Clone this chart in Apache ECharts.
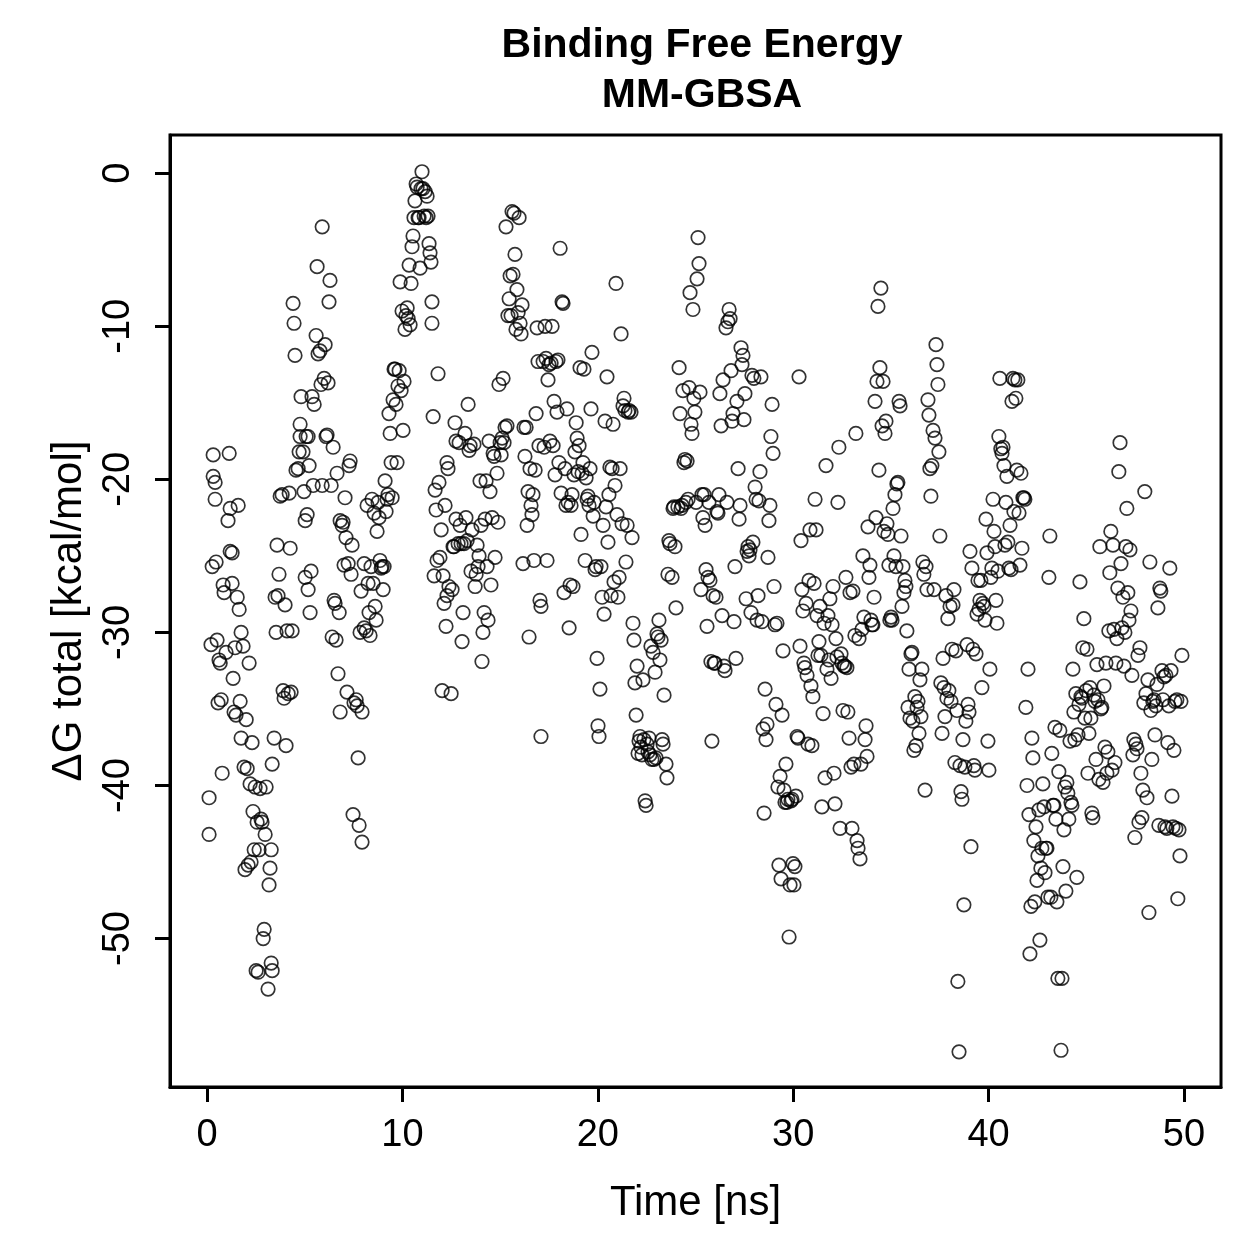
<!DOCTYPE html>
<html>
<head>
<meta charset="utf-8">
<script src="https://cdn.jsdelivr.net/npm/echarts@6/dist/echarts.min.js"></script>
<style>
  html, body { margin: 0; padding: 0; background: #fff; }
  #main { width: 1259px; height: 1259px; }
</style>
</head>
<body>
<div id="main"></div>
<script>
var time = [
  0.10,0.10,0.20,0.26,0.31,0.31,0.41,0.41,0.46,0.51,
  0.56,0.61,0.67,0.72,0.77,0.82,0.87,0.97,1.07,1.13,
  1.18,1.18,1.28,1.28,1.33,1.38,1.43,1.48,1.54,1.59,
  1.64,1.69,1.74,1.74,1.84,1.89,1.94,2.00,2.05,2.10,
  2.15,2.20,2.25,2.30,2.35,2.41,2.46,2.51,2.56,2.61,
  2.66,2.71,2.76,2.81,2.87,2.92,2.97,3.02,3.12,3.17,
  3.22,3.28,3.33,3.28,3.33,3.43,3.48,3.53,3.58,3.63,
  3.68,3.74,3.84,3.89,3.94,3.99,4.04,4.09,4.15,4.20,
  4.25,4.30,4.35,4.40,4.45,4.50,4.55,4.66,4.71,4.76,
  4.76,4.81,4.91,4.96,5.02,5.02,5.07,5.12,5.17,5.17,
  5.22,5.27,5.32,5.37,5.43,5.48,5.58,5.63,5.68,5.78,
  5.83,5.89,5.89,5.99,6.04,6.09,6.14,6.19,6.24,6.29,
  6.35,6.40,6.45,6.50,6.55,6.60,6.65,6.70,6.76,6.81,
  6.81,6.91,6.96,7.01,7.06,7.11,7.16,7.22,7.27,7.32,
  7.37,7.42,7.47,7.52,7.63,7.68,7.73,7.78,7.83,7.88,
  7.93,7.93,8.04,8.04,8.14,8.19,8.24,8.29,8.34,8.39,
  8.44,8.50,8.55,8.60,8.65,8.70,8.75,8.80,8.85,8.91,
  8.96,9.01,9.06,9.11,9.16,9.21,9.26,9.31,9.37,9.42,
  9.47,9.52,9.57,9.62,9.67,9.72,9.77,9.83,9.88,9.93,
  9.98,10.03,10.08,10.13,10.18,10.24,10.29,10.34,10.39,10.44,
  10.49,10.54,10.59,10.64,10.70,10.75,10.80,10.85,10.90,10.95,
  11.00,11.05,11.11,11.16,11.21,11.26,11.31,11.36,11.41,11.46,
  11.51,11.51,11.57,11.62,11.67,11.72,11.77,11.82,11.87,11.92,
  11.98,12.03,12.08,12.13,12.18,12.23,12.28,12.28,12.33,12.38,
  12.49,12.54,12.59,12.64,12.69,12.74,12.74,12.85,12.90,12.95,
  13.00,13.05,13.10,13.15,13.20,13.25,13.31,13.36,13.41,13.46,
  13.51,13.56,13.66,13.72,13.77,13.82,13.87,13.92,13.97,14.02,
  14.07,14.12,14.18,14.23,14.28,14.33,14.38,14.43,14.48,14.53,
  14.59,14.64,14.69,14.74,14.84,14.89,14.94,15.00,15.05,15.10,
  15.15,15.20,15.25,15.30,15.35,15.40,15.46,15.51,15.56,15.61,
  15.66,15.71,15.76,15.81,15.86,15.92,15.97,16.02,16.07,16.12,
  16.17,16.22,16.27,16.33,16.38,16.43,16.48,16.53,16.58,16.63,
  16.68,16.73,16.79,16.84,16.89,16.94,16.99,17.04,17.09,17.09,
  17.20,17.25,17.30,17.35,17.40,17.45,17.50,17.55,17.61,17.66,
  17.71,17.76,17.81,17.86,17.91,17.96,18.01,18.07,18.12,18.17,
  18.22,18.27,18.32,18.37,18.42,18.48,18.53,18.58,18.63,18.68,
  18.73,18.78,18.83,18.89,18.94,18.99,19.04,19.09,19.14,19.19,
  19.24,19.29,19.35,19.40,19.45,19.50,19.55,19.60,19.65,19.70,
  19.76,19.81,19.86,19.91,19.96,20.01,20.06,20.11,20.16,20.22,
  20.27,20.32,20.37,20.42,20.47,20.52,20.57,20.62,20.68,20.73,
  20.78,20.83,20.88,20.93,20.98,21.03,21.09,21.14,21.19,21.24,
  21.29,21.34,21.39,21.44,21.50,21.55,21.60,21.70,21.75,21.80,
  21.85,21.90,21.96,22.01,22.06,22.11,22.16,22.21,22.26,22.31,
  22.36,22.42,22.47,22.52,22.57,22.62,22.67,22.72,22.77,22.83,
  22.88,22.93,22.98,23.03,23.08,23.13,23.18,23.24,23.29,23.34,
  23.39,23.49,23.54,23.59,23.64,23.69,23.80,23.85,23.90,23.95,
  24.00,24.10,24.16,24.21,24.26,24.31,24.36,24.41,24.46,24.51,
  24.57,24.62,24.67,24.72,24.77,24.82,24.87,24.92,24.97,25.03,
  25.08,25.13,25.18,25.23,25.28,25.33,25.38,25.44,25.49,25.54,
  25.59,25.64,25.69,25.74,25.79,25.84,25.90,25.95,26.00,26.05,
  26.10,26.15,26.20,26.25,26.31,26.36,26.41,26.46,26.51,26.56,
  26.61,26.66,26.72,26.77,26.82,26.87,26.92,26.97,27.02,27.07,
  27.12,27.18,27.23,27.28,27.33,27.38,27.43,27.48,27.53,27.59,
  27.64,27.69,27.74,27.79,27.84,27.89,27.94,27.99,28.05,28.10,
  28.15,28.20,28.25,28.30,28.35,28.40,28.46,28.51,28.56,28.61,
  28.66,28.71,28.76,28.81,28.86,28.92,28.97,29.02,29.07,29.12,
  29.17,29.22,29.27,29.33,29.38,29.43,29.48,29.53,29.58,29.63,
  29.68,29.73,29.79,29.84,29.89,29.94,29.99,30.04,30.09,30.14,
  30.20,30.25,30.30,30.35,30.40,30.45,30.50,30.55,30.60,30.66,
  30.71,30.76,30.81,30.86,30.91,30.96,31.01,31.07,31.12,31.17,
  31.22,31.27,31.32,31.37,31.42,31.47,31.53,31.58,31.63,31.68,
  31.73,31.78,31.83,31.88,31.94,31.99,32.04,32.09,32.14,32.19,
  32.24,32.29,32.34,32.40,32.45,32.50,32.55,32.60,32.65,32.70,
  32.75,32.80,32.86,32.91,32.96,33.01,33.06,33.11,33.16,33.21,
  33.27,33.32,33.37,33.42,33.47,33.52,33.57,33.62,33.68,33.73,
  33.78,33.83,33.88,33.93,33.98,34.03,34.08,34.14,34.19,34.24,
  34.29,34.34,34.39,34.44,34.49,34.55,34.60,34.65,34.70,34.75,
  34.80,34.85,34.90,34.95,35.01,35.06,35.11,35.16,35.21,35.26,
  35.31,35.36,35.42,35.47,35.52,35.57,35.62,35.67,35.72,35.77,
  35.82,35.88,35.93,35.98,36.03,36.08,36.13,36.18,36.23,36.29,
  36.34,36.39,36.44,36.49,36.54,36.59,36.64,36.69,36.75,36.80,
  36.85,36.90,36.95,37.00,37.05,37.10,37.16,37.21,37.26,37.31,
  37.36,37.41,37.46,37.51,37.56,37.62,37.67,37.72,37.77,37.82,
  37.87,37.92,37.97,38.03,38.08,38.13,38.18,38.23,38.28,38.33,
  38.38,38.43,38.49,38.54,38.59,38.64,38.69,38.74,38.79,38.84,
  38.90,38.95,39.00,39.05,39.10,39.15,39.20,39.25,39.30,39.36,
  39.41,39.46,39.51,39.56,39.61,39.66,39.71,39.77,39.82,39.87,
  39.92,39.97,40.02,40.07,40.12,40.17,40.23,40.28,40.33,40.38,
  40.43,40.48,40.53,40.58,40.63,40.69,40.74,40.79,40.84,40.89,
  40.94,40.99,41.04,41.10,41.15,41.20,41.25,41.30,41.35,41.40,
  41.45,41.50,41.56,41.61,41.66,41.71,41.76,41.81,41.86,41.91,
  41.97,42.02,42.07,42.12,42.17,42.22,42.27,42.32,42.37,42.43,
  42.48,42.53,42.58,42.63,42.68,42.73,42.78,42.84,42.89,42.94,
  42.99,43.04,43.09,43.14,43.19,43.24,43.30,43.35,43.40,43.45,
  43.50,43.55,43.60,43.65,43.71,43.76,43.81,43.86,43.91,43.96,
  44.01,44.06,44.11,44.17,44.22,44.27,44.32,44.37,44.42,44.47,
  44.52,44.58,44.63,44.68,44.73,44.78,44.83,44.88,44.93,44.99,
  45.04,45.09,45.14,45.19,45.24,45.29,45.34,45.39,45.45,45.50,
  45.55,45.60,45.65,45.70,45.75,45.80,45.86,45.91,45.96,46.01,
  46.06,46.11,46.16,46.21,46.26,46.32,46.37,46.42,46.47,46.52,
  46.57,46.62,46.67,46.73,46.78,46.83,46.88,46.93,46.98,47.03,
  47.08,47.13,47.19,47.24,47.29,47.34,47.39,47.44,47.49,47.54,
  47.60,47.65,47.70,47.75,47.80,47.85,47.90,47.95,48.00,48.06,
  48.11,48.16,48.21,48.26,48.31,48.36,48.41,48.47,48.52,48.57,
  48.62,48.67,48.72,48.77,48.82,48.88,48.93,48.98,49.03,49.08,
  49.13,49.18,49.23,49.28,49.34,49.39,49.44,49.49,49.54,49.59,
  49.64,49.69,49.75,49.80,49.85,49.90
];

// ΔG total [kcal/mol], same order as time
var dG = [
  -40.8,-43.2,-30.8,-25.7,-18.4,-19.8,-20.2,-21.3,-25.4,-30.5,
  -34.6,-31.8,-32,-34.4,-39.2,-26.9,-27.4,-31.3,-22.7,-18.3,
  -21.9,-24.7,-24.8,-26.8,-33,-35.2,-31,-35.4,-27.7,-21.7,
  -28.5,-34.5,-36.9,-30,-30.9,-38.8,-45.5,-35.7,-38.9,-45.2,
  -32,-39.9,-45,-37.2,-41.7,-44.2,-40.1,-52.1,-42.4,-52.2,
  -44.2,-40.2,-42.2,-42.4,-50,-49.4,-43.2,-40.1,-53.3,-46.5,
  -45.4,-51.6,-52.1,-44.2,-38.6,-36.9,-27.7,-30,-24.3,-27.6,
  -26.2,-21.1,-21,-33.8,-34.3,-28.2,-37.4,-29.9,-34,-20.9,
  -24.5,-33.9,-29.9,-8.5,-9.8,-11.9,-19.4,-19.3,-18.2,-17.2,
  -16.4,-14.6,-18.2,-20.8,-22.7,-26.4,-17.2,-22.3,-27.2,-17.2,
  -19.1,-28.7,-26,-14.6,-20.4,-15.1,-10.6,-6.1,-11.8,-11.6,
  -13.8,-3.5,-20.4,-13.4,-11.2,-17.2,-17.1,-13.7,-8.4,-7,
  -20.4,-30.3,-17.9,-27.9,-28.1,-30.5,-19.6,-32.7,-28.7,-35.2,
  -22.7,-23,-22.8,-25.6,-21.2,-23.8,-33.9,-25.5,-19.1,-18.8,
  -26.2,-24.3,-41.9,-34.6,-34.4,-34.8,-38.2,-42.6,-30,-27.3,
  -43.7,-35.2,-25.5,-29.7,-29.9,-21.7,-26.8,-28.7,-30.2,-25.7,
  -21.3,-26.8,-22.2,-28.3,-29.2,-23.4,-21.5,-22.5,-25.3,-25.8,
  -25.7,-27.2,-25.7,-20.1,-22.1,-21.3,-21,-15.7,-17,-18.9,
  -21.2,-14.8,-12.8,-12.8,-15.1,-18.9,-13.9,-12.9,-7.1,-14.2,
  -9,-16.8,-13.6,-10.2,-9.3,-8.8,-9.5,-6,-9.9,-7.2,
  -4.8,-4.1,-2.9,-1.8,-0.7,-0.9,-2.9,-2.9,-6.2,-1,
  0.1,-1,-2.8,-1.2,-2.9,-1.5,-2.8,-4.6,-5.2,-5.8,
  -8.4,-9.8,-15.9,-26.3,-20.7,-22,-25.3,-13.1,-20.2,-25.1,
  -23.3,-33.8,-26.3,-28.1,-21.7,-29.6,-18.9,-27.6,-19.3,-27,
  -34,-27.2,-24.4,-24.4,-16.3,-17.5,-22.6,-24.2,-17.6,-23,
  -24.2,-30.6,-28.7,-24.2,-17,-22.5,-24,-15.1,-18.1,-17.8,
  -26,-23.3,-17.7,-27,-26.2,-24.3,-25.7,-25,-20.1,-23,
  -31.9,-30,-28.7,-22.6,-20.1,-25.7,-29.2,-17.5,-20.8,-26.9,
  -22.5,-18.3,-18.5,-25.1,-19.6,-22.8,-13.8,-17.6,-18.4,-17.3,
  -13.4,-17.6,-16.6,-3.5,-16.5,-9.3,-8.2,-6.7,-9.3,-2.5,
  -6.6,-2.6,-5.3,-10.2,-7.6,-9.1,-2.9,-9.8,-10.5,-8.6,
  -25.5,-16.6,-18.5,-16.6,-23,-20.8,-30.3,-19.3,-21.7,-22.3,
  -21,-25.3,-19.4,-15.7,-10.1,-12.3,-17.8,-27.9,-36.8,-28.3,
  -12.3,-17.9,-10,-12.1,-25.3,-13.5,-12.5,-17.5,-12.4,-10,
  -17.8,-14.9,-19.7,-12.3,-15.6,-12.2,-18.9,-4.9,-20.9,-8.4,
  -8.5,-27.4,-19.3,-21.7,-15.4,-21.5,-29.7,-26.9,-21.7,-21,
  -27,-19.7,-18.2,-16.3,-17.3,-19.5,-17.8,-12.7,-23.6,-19.6,
  -18.9,-12.8,-25.3,-19.9,-21.3,-21.1,-21.7,-19.3,-15.4,-11.7,
  -22.4,-21.5,-25.9,-25.7,-31.7,-36.1,-36.8,-33.7,-25.7,-27.7,
  -23,-28.8,-16.2,-21.8,-13.3,-24.1,-21,-19.2,-27.6,-19.3,
  -16.4,-26.7,-20.4,-7.2,-22.3,-27.7,-26.4,-19.3,-10.5,-22.9,
  -15.2,-14.7,-15.5,-25.4,-23,-15.6,-15.5,-15.6,-23.8,-29.4,
  -30.5,-33.3,-35.4,-32.2,-37.9,-37.1,-36.8,-37.5,-38,-33.1,
  -37,-41,-41.3,-37.3,-37.8,-36.9,-38,-30.9,-38.3,-31.3,
  -38.3,-32.6,-38.2,-30.1,-30.3,-29.2,-31.8,-30.5,-37,-37.3,
  -34.1,-38.6,-39.5,-26.2,-24,-24.2,-26.4,-21.9,-21.8,-24.4,
  -28.4,-21.8,-12.7,-15.7,-21.9,-21.7,-14.2,-18.9,-18.7,-21.5,
  -18.8,-21.3,-14,-7.8,-16.4,-17,-8.9,-14.7,-15.6,-21.5,
  -6.9,-4.2,-5.9,-14.3,-27.2,-21,-22.5,-21,-23,-25.9,
  -29.6,-26.4,-21.5,-26.6,-31.9,-37.1,-27.6,-32,-32,-27.7,
  -22.1,-22.2,-21,-14.4,-16.5,-28.9,-13.5,-32.2,-32.5,-10.1,
  -21.5,-9.7,-8.9,-9.5,-12.9,-16.2,-15.7,-29.3,-25.7,-31.7,
  -14.9,-19.3,-22.6,-21.7,-11.4,-12.5,-11.9,-16.1,-14.4,-27.8,
  -24.7,-24.4,-25,-24.6,-28.7,-13.2,-24.1,-13.4,-20.5,-21.3,
  -29.2,-27.6,-21.4,-19.5,-13.3,-29.3,-36.3,-41.8,-33.7,-37,
  -36,-25.1,-22.7,-21.7,-17.2,-15.1,-18.3,-27,-29.5,-34.7,
  -29.4,-40.1,-45.2,-39.4,-46.1,-35.4,-31.2,-40.3,-41.1,-38.6,
  -41.1,-40.9,-49.9,-46.5,-41,-40.9,-45.1,-46.5,-45.3,-40.7,
  -36.8,-36.9,-13.3,-30.9,-24,-27.2,-28.6,-32,-32.3,-28.1,
  -32.8,-37.3,-26.6,-23.3,-33.5,-37.4,-34.2,-26.8,-21.3,-23.3,
  -28.9,-31.5,-30.6,-28.3,-31.5,-41.4,-35.3,-29.4,-39.5,-19.1,
  -32.4,-28.9,-31.8,-27.8,-33,-29.5,-27,-39.2,-41.2,-30.4,
  -31.6,-21.5,-17.9,-42.8,-31.4,-32,-35.1,-32.2,-32.2,-26.4,
  -32.3,-35.2,-36.9,-27.4,-38.8,-42.8,-27.3,-38.6,-30.2,-17,
  -43.6,-44.1,-30.4,-44.8,-38.6,-29.8,-25,-29,-37,-36.1,
  -38.1,-23.1,-26.4,-25.6,-29.2,-29.5,-29.5,-27.7,-14.9,-22.5,
  -13.6,-8.7,-19.4,-12.7,-7.5,-16.5,-13.6,-23.4,-17,-16.2,
  -22.9,-23.6,-25.6,-29.2,-29,-29.2,-21.9,-25,-21,-25.7,
  -20.3,-20.2,-14.9,-15.2,-23.7,-28.3,-25.7,-27.4,-26.6,-27,
  -29.9,-34.9,-32.4,-35.6,-31.4,-31.3,-35.8,-37.7,-34.2,-37.4,
  -34.9,-34.5,-36.6,-33.1,-35.5,-32.4,-25.4,-26.2,-40.3,-25.7,
  -27.2,-14.8,-15.8,-19.3,-21.1,-19.1,-16.8,-27.2,-17.3,-11.2,
  -12.5,-13.8,-18.2,-23.7,-33.3,-36.6,-31.7,-33.6,-35.5,-27.6,
  -34.3,-29.1,-33.8,-28.3,-34.5,-31.1,-28.2,-27.2,-38.5,-31.2,
  -35.1,-52.8,-57.4,-38.7,-40.4,-40.9,-37,-47.8,-38.8,-35.8,
  -30.8,-34.7,-35.2,-24.7,-44,-25.8,-31.1,-38.7,-39,-31.4,
  -28.8,-26.6,-28.5,-27.9,-26.6,-33.6,-28.1,-28.3,-29.2,-22.6,
  -24.8,-37.1,-39,-32.4,-26.4,-25.8,-21.3,-23.4,-24.4,-27.9,
  -29.4,-26,-17.2,-13.4,-18,-18.3,-17.9,-19.1,-24.3,-21.5,
  -19.8,-24.1,-25.8,-23,-25.9,-14.9,-13.4,-22.1,-13.5,-14.7,
  -19.4,-13.5,-22.2,-25.6,-19.6,-24.5,-21.2,-21.2,-21.3,-34.9,
  -40,-32.4,-41.9,-51,-47.9,-36.9,-38.2,-43.6,-47.6,-42.7,
  -46.2,-44.6,-41.6,-50.1,-45.4,-44.1,-39.9,-41.4,-45.7,-44.1,
  -44.1,-47.3,-26.4,-23.7,-47.3,-37.9,-41.3,-41.3,-36.2,-42.2,
  -47.6,-52.6,-39.1,-36.4,-57.3,-52.6,-45.3,-42.9,-40.1,-46.9,
  -39.8,-40.5,-42.2,-37.1,-41.1,-41.3,-32.4,-35.2,-37,-34,
  -46,-36.7,-34.7,-26.7,-34.2,-34.3,-31,-29.1,-35.6,-33.8,
  -31.1,-39.2,-36.6,-33.6,-35.6,-41.8,-42.1,-34.1,-34.5,-38.3,
  -32.1,-34.4,-39.6,-24.4,-35,-34.9,-39.8,-33.5,-37.5,-32,
  -39.2,-37.8,-29.9,-26.1,-23.4,-39,-24.3,-29.8,-38.5,-32,
  -30.4,-27.1,-19.5,-17.6,-25.5,-29.7,-27.7,-32.2,-30,-24.4,
  -21.9,-27.4,-29.2,-24.6,-28.6,-32.8,-38,-37,-43.4,-37.3,
  -37.6,-31.5,-42.4,-31,-39.2,-42.1,-40.3,-34.6,-20.8,-34,
  -40.8,-33.1,-48.3,-25.4,-35.1,-38.3,-34.5,-34.4,-36.7,-34.8,
  -33.4,-28.4,-42.6,-27.1,-27.3,-32.5,-34.4,-32.9,-42.7,-32.8,
  -42.8,-37.2,-34.8,-25.8,-32.5,-40.7,-42.7,-37.7,-34.5,-42.8,
  -34.4,-47.4,-42.9,-44.6,-34.5,-31.5
];

// tick labels
var xTicks = [0, 10, 20, 30, 40, 50];
var yTicks = [0, -10, -20, -30, -40, -50];

var points = [];
for (var i = 0; i < Math.min(time.length, dG.length); i++) {
  points.push([time[i], dG[i]]);
}

var font = "'Liberation Sans', Arial, Helvetica, sans-serif";
var myChart = echarts.init(document.getElementById('main'), null, { renderer: 'canvas' });
var option = {
  animation: false,
  backgroundColor: '#fff',
  title: {
    text: 'Binding Free Energy\nMM-GBSA',
    left: 697,
    top: 16,
    textAlign: 'center',
    textStyle: {
      fontFamily: font,
      fontWeight: 'bold',
      fontSize: 41,
      lineHeight: 50,
      color: '#000'
    }
  },
  grid: {
    left: 170,
    top: 135,
    right: 38,
    bottom: 172,
    show: true,
    borderColor: '#000',
    borderWidth: 3,
    backgroundColor: 'transparent'
  },
  xAxis: {
    type: 'value',
    min: -1.9,
    max: 51.9,
    name: 'Time [ns]',
    nameLocation: 'middle',
    nameGap: 95,
    nameTextStyle: { fontFamily: font, fontSize: 42, color: '#000' },
    axisLine: { show: true, onZero: false, lineStyle: { color: '#000', width: 3 } },
    splitLine: { show: false },
    axisTick: {
      show: true,
      customValues: xTicks,
      length: 15,
      lineStyle: { color: '#000', width: 3 }
    },
    axisLabel: {
      customValues: xTicks,
      margin: 30,
      fontFamily: font,
      fontSize: 38,
      color: '#000'
    }
  },
  yAxis: {
    type: 'value',
    min: -59.7,
    max: 2.5,
    name: 'ΔG total [kcal/mol]',
    nameLocation: 'middle',
    nameRotate: 90,
    nameGap: 80,
    nameTextStyle: { fontFamily: font, fontSize: 42, color: '#000' },
    axisLine: { show: true, onZero: false, lineStyle: { color: '#000', width: 3 } },
    splitLine: { show: false },
    axisTick: {
      show: true,
      customValues: yTicks,
      length: 15,
      lineStyle: { color: '#000', width: 3 }
    },
    axisLabel: {
      customValues: yTicks,
      rotate: 90,
      margin: 32,
      fontFamily: font,
      fontSize: 38,
      color: '#000'
    }
  },
  series: [{
    type: 'scatter',
    data: points,
    symbol: 'circle',
    symbolSize: 13.5,
    itemStyle: {
      color: 'rgba(0,0,0,0)',
      borderColor: '#000',
      borderWidth: 1.7
    }
  }]
};
myChart.setOption(option);
</script>
</body>
</html>
